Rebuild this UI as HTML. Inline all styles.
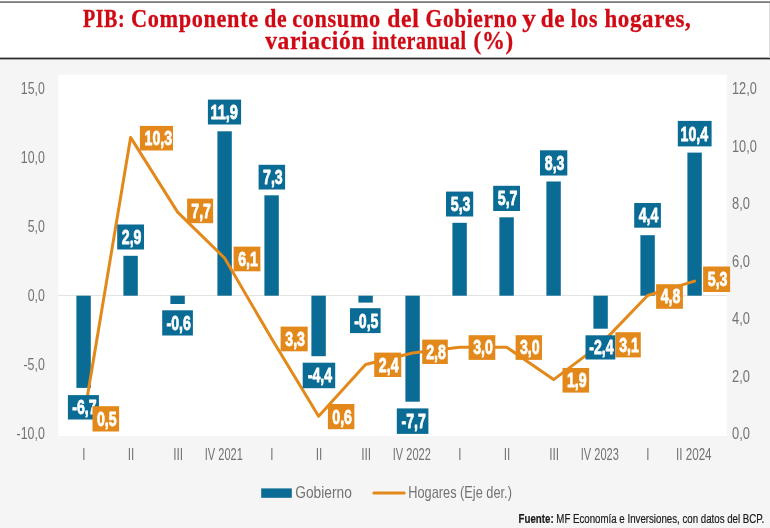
<!DOCTYPE html>
<html lang="es"><head><meta charset="utf-8"><title>PIB: Componente de consumo del Gobierno y de los hogares</title>
<style>
html,body{margin:0;padding:0;background:#fff;}
body{width:770px;height:528px;overflow:hidden;}
svg{display:block;}
.ttl{font-family:"Liberation Serif",serif;font-weight:bold;font-size:24.2px;letter-spacing:0.7px;fill:#d00a14;stroke:#d00a14;stroke-width:0.3px;}
.ax{font-family:"Liberation Sans",sans-serif;font-size:16px;fill:#737373;}
.lg{font-family:"Liberation Sans",sans-serif;font-size:17px;fill:#737373;}
.lb{font-family:"Liberation Sans",sans-serif;font-weight:bold;font-size:20px;fill:#fff;stroke:#fff;stroke-width:0.8px;stroke-linejoin:round;}
.src{font-family:"Liberation Sans",sans-serif;font-size:12px;fill:#1a1a1a;stroke:#1a1a1a;stroke-width:0.2px;}
</style></head><body>
<svg width="770" height="528" viewBox="0 0 770 528">

<rect x="0" y="0" width="770" height="528" fill="#fff"/>
<rect x="0" y="59" width="770" height="469" fill="#f5f5f5"/>
<rect x="0" y="1.2" width="770" height="1.8" fill="#7c7c7c"/>
<rect x="0" y="57.6" width="770" height="1.8" fill="#2e2e2e"/>
<rect x="769" y="3" width="1" height="55" fill="#d9d9d9"/>
<text class="ttl" y="26.6"><tspan x="82.9" textLength="42.4" lengthAdjust="spacingAndGlyphs">PIB:</tspan> <tspan x="130.9" textLength="127.9" lengthAdjust="spacingAndGlyphs">Componente</tspan> <tspan x="264.3" textLength="23.0" lengthAdjust="spacingAndGlyphs">de</tspan> <tspan x="292.2" textLength="88.7" lengthAdjust="spacingAndGlyphs">consumo</tspan> <tspan x="387.3" textLength="32.2" lengthAdjust="spacingAndGlyphs">del</tspan> <tspan x="425.6" textLength="91.9" lengthAdjust="spacingAndGlyphs">Gobierno</tspan> <tspan x="522.2" textLength="14.4" lengthAdjust="spacingAndGlyphs">y</tspan> <tspan x="540.7" textLength="24.5" lengthAdjust="spacingAndGlyphs">de</tspan> <tspan x="570.7" textLength="27.3" lengthAdjust="spacingAndGlyphs">los</tspan> <tspan x="604.4" textLength="87.1" lengthAdjust="spacingAndGlyphs">hogares,</tspan></text>
<text class="ttl" y="48.9"><tspan x="265.2" textLength="100.0" lengthAdjust="spacingAndGlyphs">variación</tspan> <tspan x="372.2" textLength="94.4" lengthAdjust="spacingAndGlyphs">interanual</tspan> <tspan x="473.6" textLength="40.2" lengthAdjust="spacingAndGlyphs">(%)</tspan></text>
<rect x="58.3" y="74.8" width="668.5" height="361.2" fill="#fff"/>
<rect x="58.3" y="295" width="668.5" height="1" fill="#e3e3e3"/>
<text class="ax" x="44.8" y="93.6" text-anchor="end" textLength="24.0" lengthAdjust="spacingAndGlyphs">15,0</text>
<text class="ax" x="44.8" y="162.7" text-anchor="end" textLength="24.0" lengthAdjust="spacingAndGlyphs">10,0</text>
<text class="ax" x="44.8" y="231.8" text-anchor="end" textLength="17.1" lengthAdjust="spacingAndGlyphs">5,0</text>
<text class="ax" x="44.8" y="300.9" text-anchor="end" textLength="17.1" lengthAdjust="spacingAndGlyphs">0,0</text>
<text class="ax" x="44.8" y="370.0" text-anchor="end" textLength="21.3" lengthAdjust="spacingAndGlyphs">-5,0</text>
<text class="ax" x="44.8" y="439.1" text-anchor="end" textLength="28.2" lengthAdjust="spacingAndGlyphs">-10,0</text>
<text class="ax" x="732.0" y="439.1" textLength="17.9" lengthAdjust="spacingAndGlyphs">0,0</text>
<text class="ax" x="732.0" y="381.6" textLength="17.9" lengthAdjust="spacingAndGlyphs">2,0</text>
<text class="ax" x="732.0" y="324.1" textLength="17.9" lengthAdjust="spacingAndGlyphs">4,0</text>
<text class="ax" x="732.0" y="266.6" textLength="17.9" lengthAdjust="spacingAndGlyphs">6,0</text>
<text class="ax" x="732.0" y="209.1" textLength="17.9" lengthAdjust="spacingAndGlyphs">8,0</text>
<text class="ax" x="732.0" y="151.6" textLength="24.8" lengthAdjust="spacingAndGlyphs">10,0</text>
<text class="ax" x="732.0" y="94.1" textLength="24.8" lengthAdjust="spacingAndGlyphs">12,0</text>
<text class="ax" x="83.8" y="459.5" text-anchor="middle" textLength="3.2" lengthAdjust="spacingAndGlyphs">I</text>
<text class="ax" x="131.0" y="459.5" text-anchor="middle" textLength="6.6" lengthAdjust="spacingAndGlyphs">II</text>
<text class="ax" x="178.2" y="459.5" text-anchor="middle" textLength="10.0" lengthAdjust="spacingAndGlyphs">III</text>
<text class="ax" x="223.8" y="459.5" text-anchor="middle" textLength="38.0" lengthAdjust="spacingAndGlyphs">IV 2021</text>
<text class="ax" x="271.8" y="459.5" text-anchor="middle" textLength="3.2" lengthAdjust="spacingAndGlyphs">I</text>
<text class="ax" x="319.0" y="459.5" text-anchor="middle" textLength="6.6" lengthAdjust="spacingAndGlyphs">II</text>
<text class="ax" x="366.2" y="459.5" text-anchor="middle" textLength="10.0" lengthAdjust="spacingAndGlyphs">III</text>
<text class="ax" x="411.8" y="459.5" text-anchor="middle" textLength="38.0" lengthAdjust="spacingAndGlyphs">IV 2022</text>
<text class="ax" x="459.8" y="459.5" text-anchor="middle" textLength="3.2" lengthAdjust="spacingAndGlyphs">I</text>
<text class="ax" x="507.0" y="459.5" text-anchor="middle" textLength="6.6" lengthAdjust="spacingAndGlyphs">II</text>
<text class="ax" x="554.2" y="459.5" text-anchor="middle" textLength="10.0" lengthAdjust="spacingAndGlyphs">III</text>
<text class="ax" x="599.8" y="459.5" text-anchor="middle" textLength="38.0" lengthAdjust="spacingAndGlyphs">IV 2023</text>
<text class="ax" x="647.8" y="459.5" text-anchor="middle" textLength="3.2" lengthAdjust="spacingAndGlyphs">I</text>
<text class="ax" x="693.8" y="459.5" text-anchor="middle" textLength="35.5" lengthAdjust="spacingAndGlyphs">II 2024</text>
<rect x="76.4" y="295.7" width="14.4" height="92.2" fill="#0A6B94"/>
<rect x="123.4" y="255.8" width="14.4" height="39.9" fill="#0A6B94"/>
<rect x="170.4" y="295.7" width="14.4" height="8.3" fill="#0A6B94"/>
<rect x="217.4" y="131.3" width="14.4" height="164.4" fill="#0A6B94"/>
<rect x="264.4" y="195.3" width="14.4" height="100.4" fill="#0A6B94"/>
<rect x="311.4" y="295.7" width="14.4" height="60.5" fill="#0A6B94"/>
<rect x="358.4" y="295.7" width="14.4" height="6.9" fill="#0A6B94"/>
<rect x="405.4" y="295.7" width="14.4" height="106.0" fill="#0A6B94"/>
<rect x="452.4" y="222.8" width="14.4" height="72.9" fill="#0A6B94"/>
<rect x="499.4" y="217.3" width="14.4" height="78.4" fill="#0A6B94"/>
<rect x="546.4" y="181.5" width="14.4" height="114.2" fill="#0A6B94"/>
<rect x="593.4" y="295.7" width="14.4" height="33.0" fill="#0A6B94"/>
<rect x="640.4" y="235.2" width="14.4" height="60.5" fill="#0A6B94"/>
<rect x="687.4" y="152.6" width="14.4" height="143.1" fill="#0A6B94"/>
<polyline points="83.6,419.1 130.6,137.4 177.6,212.1 224.6,258.1 271.6,338.6 318.6,416.2 365.6,364.5 412.6,353.0 459.6,347.2 506.6,347.2 553.6,379.6 600.6,344.4 647.6,295.5 694.6,281.1" fill="none" stroke="#E3891B" stroke-width="3" stroke-linejoin="round" stroke-linecap="butt"/>
<circle cx="694.6" cy="281.1" r="1.5" fill="#E3891B"/>
<rect x="67.9" y="395.1" width="31.0" height="24.4" fill="#0A6B94"/>
<text class="lb" x="84.4" y="414.2" text-anchor="middle" textLength="24.3" lengthAdjust="spacingAndGlyphs">-6,7</text>
<rect x="117.2" y="224.5" width="26.8" height="25.0" fill="#0A6B94"/>
<text class="lb" x="131.6" y="243.9" text-anchor="middle" textLength="19.7" lengthAdjust="spacingAndGlyphs">2,9</text>
<rect x="162.2" y="310.3" width="30.7" height="25.2" fill="#0A6B94"/>
<text class="lb" x="178.6" y="329.8" text-anchor="middle" textLength="24.3" lengthAdjust="spacingAndGlyphs">-0,6</text>
<rect x="207.9" y="99.6" width="33.2" height="24.9" fill="#0A6B94"/>
<text class="lb" x="224.2" y="119.0" text-anchor="middle" textLength="27.6" lengthAdjust="spacingAndGlyphs">11,9</text>
<rect x="258.6" y="164.8" width="26.5" height="24.7" fill="#0A6B94"/>
<text class="lb" x="272.9" y="184.1" text-anchor="middle" textLength="19.7" lengthAdjust="spacingAndGlyphs">7,3</text>
<rect x="302.7" y="362.7" width="32.5" height="25.5" fill="#0A6B94"/>
<text class="lb" x="319.9" y="382.3" text-anchor="middle" textLength="24.3" lengthAdjust="spacingAndGlyphs">-4,4</text>
<rect x="350.0" y="308.2" width="30.6" height="24.9" fill="#0A6B94"/>
<text class="lb" x="366.3" y="327.5" text-anchor="middle" textLength="24.3" lengthAdjust="spacingAndGlyphs">-0,5</text>
<rect x="396.8" y="408.4" width="31.6" height="25.5" fill="#0A6B94"/>
<text class="lb" x="413.6" y="428.0" text-anchor="middle" textLength="24.3" lengthAdjust="spacingAndGlyphs">-7,7</text>
<rect x="446.0" y="191.6" width="27.2" height="24.9" fill="#0A6B94"/>
<text class="lb" x="460.6" y="211.0" text-anchor="middle" textLength="19.7" lengthAdjust="spacingAndGlyphs">5,3</text>
<rect x="493.2" y="185.8" width="26.8" height="25.2" fill="#0A6B94"/>
<text class="lb" x="507.6" y="205.3" text-anchor="middle" textLength="19.7" lengthAdjust="spacingAndGlyphs">5,7</text>
<rect x="540.0" y="150.3" width="27.3" height="25.2" fill="#0A6B94"/>
<text class="lb" x="554.6" y="169.8" text-anchor="middle" textLength="19.7" lengthAdjust="spacingAndGlyphs">8,3</text>
<rect x="585.5" y="335.3" width="29.8" height="24.2" fill="#0A6B94"/>
<text class="lb" x="601.4" y="354.3" text-anchor="middle" textLength="24.3" lengthAdjust="spacingAndGlyphs">-2,4</text>
<rect x="634.2" y="203.0" width="26.7" height="24.7" fill="#0A6B94"/>
<text class="lb" x="648.5" y="222.2" text-anchor="middle" textLength="19.7" lengthAdjust="spacingAndGlyphs">4,4</text>
<rect x="677.8" y="120.9" width="33.8" height="25.5" fill="#0A6B94"/>
<text class="lb" x="694.4" y="140.6" text-anchor="middle" textLength="27.6" lengthAdjust="spacingAndGlyphs">10,4</text>
<rect x="92.5" y="406.2" width="26.6" height="25.3" fill="#E3891B"/>
<text class="lb" x="106.8" y="425.8" text-anchor="middle" textLength="19.7" lengthAdjust="spacingAndGlyphs">0,5</text>
<rect x="139.9" y="125.9" width="33.1" height="24.6" fill="#E3891B"/>
<text class="lb" x="158.4" y="145.1" text-anchor="middle" textLength="27.6" lengthAdjust="spacingAndGlyphs">10,3</text>
<rect x="187.1" y="198.6" width="26.0" height="24.6" fill="#E3891B"/>
<text class="lb" x="201.1" y="217.8" text-anchor="middle" textLength="19.7" lengthAdjust="spacingAndGlyphs">7,7</text>
<rect x="233.6" y="246.6" width="26.8" height="24.7" fill="#E3891B"/>
<text class="lb" x="248.0" y="265.8" text-anchor="middle" textLength="19.7" lengthAdjust="spacingAndGlyphs">6,1</text>
<rect x="280.6" y="326.6" width="27.1" height="24.7" fill="#E3891B"/>
<text class="lb" x="295.1" y="345.9" text-anchor="middle" textLength="19.7" lengthAdjust="spacingAndGlyphs">3,3</text>
<rect x="327.9" y="404.0" width="26.5" height="25.2" fill="#E3891B"/>
<text class="lb" x="342.1" y="423.5" text-anchor="middle" textLength="19.7" lengthAdjust="spacingAndGlyphs">0,6</text>
<rect x="374.2" y="352.6" width="27.0" height="24.4" fill="#E3891B"/>
<text class="lb" x="388.7" y="371.7" text-anchor="middle" textLength="19.7" lengthAdjust="spacingAndGlyphs">2,4</text>
<rect x="422.2" y="339.6" width="25.6" height="24.4" fill="#E3891B"/>
<text class="lb" x="436.0" y="358.7" text-anchor="middle" textLength="19.7" lengthAdjust="spacingAndGlyphs">2,8</text>
<rect x="468.6" y="335.2" width="26.7" height="24.7" fill="#E3891B"/>
<text class="lb" x="483.0" y="354.4" text-anchor="middle" textLength="19.7" lengthAdjust="spacingAndGlyphs">3,0</text>
<rect x="515.6" y="335.2" width="26.4" height="24.7" fill="#E3891B"/>
<text class="lb" x="529.8" y="354.4" text-anchor="middle" textLength="19.7" lengthAdjust="spacingAndGlyphs">3,0</text>
<rect x="562.5" y="368.0" width="26.6" height="24.6" fill="#E3891B"/>
<text class="lb" x="576.8" y="387.2" text-anchor="middle" textLength="19.7" lengthAdjust="spacingAndGlyphs">1,9</text>
<rect x="615.3" y="332.2" width="25.5" height="25.2" fill="#E3891B"/>
<text class="lb" x="629.0" y="351.7" text-anchor="middle" textLength="19.7" lengthAdjust="spacingAndGlyphs">3,1</text>
<rect x="656.1" y="284.2" width="26.8" height="24.6" fill="#E3891B"/>
<text class="lb" x="670.5" y="303.4" text-anchor="middle" textLength="19.7" lengthAdjust="spacingAndGlyphs">4,8</text>
<rect x="703.1" y="266.5" width="27.0" height="25.5" fill="#E3891B"/>
<text class="lb" x="717.6" y="286.1" text-anchor="middle" textLength="19.7" lengthAdjust="spacingAndGlyphs">5,3</text>
<rect x="261.2" y="488.4" width="30.6" height="9.4" fill="#0A6B94"/>
<text class="lg" x="295.3" y="497.9" textLength="56.5" lengthAdjust="spacingAndGlyphs">Gobierno</text>
<rect x="372.4" y="491.6" width="33.3" height="3" rx="1.5" fill="#E3891B"/>
<text class="lg" x="408.3" y="497.9" textLength="103.6" lengthAdjust="spacingAndGlyphs">Hogares (Eje der.)</text>
<text class="src" x="518.6" y="522.6" textLength="245.6" lengthAdjust="spacingAndGlyphs"><tspan font-weight="bold">Fuente:</tspan> MF Economía e Inversiones, con datos del BCP.</text>
</svg></body></html>
